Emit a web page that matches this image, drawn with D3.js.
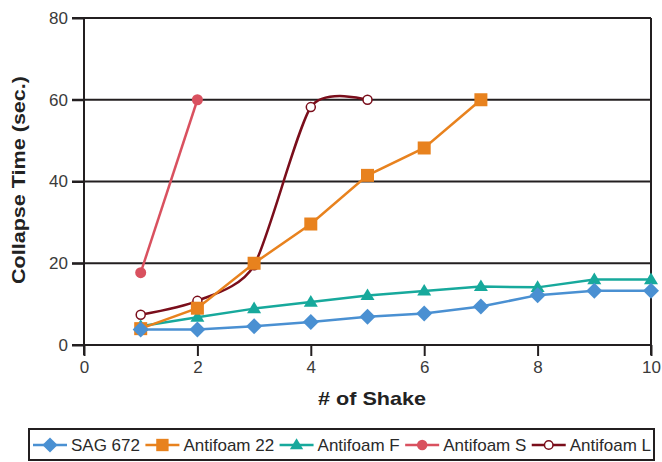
<!DOCTYPE html>
<html><head><meta charset="utf-8">
<script src="https://cdn.jsdelivr.net/npm/d3@7"></script>
<style>
body{margin:0;background:#fff;}
svg{display:block;}
</style></head><body>
<svg id="chart" width="662" height="462"></svg>
<script>
const xTicks = [0, 2, 4, 6, 8, 10];
const yTicks = [0, 20, 40, 60, 80];
const sagX = [1, 2, 3, 4, 5, 6, 7, 8, 9, 10];
const sagY = [3.8, 3.8, 4.6, 5.6, 6.9, 7.7, 9.4, 12.2, 13.3, 13.3];
const af22X = [1, 2, 3, 4, 5, 6, 7];
const af22Y = [4.0, 9.0, 20.0, 29.6, 41.5, 48.2, 60.0];
const afFX = [1, 2, 3, 4, 5, 6, 7, 8, 9, 10];
const afFY = [4.6, 6.8, 8.9, 10.5, 12.1, 13.2, 14.3, 14.1, 16.0, 16.0];
const afSX = [1, 2];
const afSY = [17.7, 60.0];
const afLX = [1, 2, 3, 4, 5];
const afLY = [7.4, 10.8, 19.5, 58.2, 60.0];
const seriesNames = ["SAG 672", "Antifoam 22", "Antifoam F", "Antifoam S", "Antifoam L"];

(function () {
const series = [
  {name: seriesNames[0], xs: sagX, ys: sagY, color: "#4A90D2", marker: "diamond", smooth: false},
  {name: seriesNames[1], xs: af22X, ys: af22Y, color: "#E8821E", marker: "square", smooth: false},
  {name: seriesNames[2], xs: afFX, ys: afFY, color: "#17A99C", marker: "triangle", smooth: false},
  {name: seriesNames[3], xs: afSX, ys: afSY, color: "#D9515F", marker: "circle", smooth: false},
  {name: seriesNames[4], xs: afLX, ys: afLY, color: "#7A0E1B", marker: "open", smooth: true}
];

const svg = d3.select("#chart");
const pL = 84, pR = 651, pT = 18, pB = 345;
const x = d3.scaleLinear().domain([0, 10]).range([pL, pR]);
const y = d3.scaleLinear().domain([0, 80]).range([pB, pT]);
const axisColor = "#231F20";
const textColor = "#3a3a3a";
const font = "'Liberation Sans', Arial, sans-serif";

svg.append("g").selectAll("line").data(yTicks.filter(d => d > 0)).join("line")
  .attr("x1", pL - 12).attr("x2", pR)
  .attr("y1", d => y(d)).attr("y2", d => y(d))
  .attr("stroke", axisColor).attr("stroke-width", 2);

svg.append("line").attr("x1", pR).attr("x2", pR).attr("y1", y(80)).attr("y2", y(0) + 10)
  .attr("stroke", axisColor).attr("stroke-width", 2);

const yAxis = d3.axisLeft(y).tickValues(yTicks).tickSize(12).tickPadding(4).tickFormat(d3.format("d"));
const gy = svg.append("g").attr("transform", `translate(${pL},0)`).call(yAxis);
gy.select(".domain").remove();
gy.append("line").attr("x1", 0).attr("x2", 0).attr("y1", y(80)).attr("y2", y(0) + 10)
  .attr("stroke", axisColor).attr("stroke-width", 2);
gy.selectAll(".tick line").attr("stroke", axisColor).attr("stroke-width", 2);
gy.selectAll(".tick text").attr("font-family", font).attr("font-size", 17).attr("fill", textColor);

const xAxis = d3.axisBottom(x).tickValues(xTicks).tickSize(11).tickPadding(5).tickFormat(d3.format("d"));
const gx = svg.append("g").attr("transform", `translate(0,${pB})`).call(xAxis);
gx.select(".domain").remove();
gx.append("line").attr("x1", pL - 12).attr("x2", pR).attr("y1", 0).attr("y2", 0)
  .attr("stroke", axisColor).attr("stroke-width", 2);
gx.selectAll(".tick line").attr("stroke", axisColor).attr("stroke-width", 2);
gx.selectAll(".tick text").attr("font-family", font).attr("font-size", 17).attr("fill", textColor);

svg.append("text").attr("x", 372).attr("y", 405).attr("text-anchor", "middle")
  .attr("font-family", font).attr("font-weight", "bold").attr("font-size", 19).attr("fill", "#222")
  .attr("textLength", 108).attr("lengthAdjust", "spacingAndGlyphs")
  .text("# of Shake");
svg.append("text").attr("transform", `translate(25,180) rotate(-90)`)
  .attr("text-anchor", "middle")
  .attr("font-family", font).attr("font-weight", "bold").attr("font-size", 19).attr("fill", "#222")
  .attr("textLength", 208).attr("lengthAdjust", "spacingAndGlyphs")
  .text("Collapse Time (sec.)");

function drawMarker(g, type, color, cx, cy, scale) {
  const s = scale || 1;
  if (type === "diamond") {
    const r = 8 * s;
    g.append("path").attr("d", `M${cx},${cy - r}L${cx + r},${cy}L${cx},${cy + r}L${cx - r},${cy}Z`).attr("fill", color);
  } else if (type === "square") {
    const h = 6.5 * s;
    g.append("rect").attr("x", cx - h).attr("y", cy - h).attr("width", 2 * h).attr("height", 2 * h).attr("fill", color);
  } else if (type === "triangle") {
    const h = 7 * s;
    g.append("path").attr("d", `M${cx},${cy - h}L${cx + h},${cy + h * 0.65}L${cx - h},${cy + h * 0.65}Z`).attr("fill", color);
  } else if (type === "circle") {
    g.append("circle").attr("cx", cx).attr("cy", cy).attr("r", 5.5 * s).attr("fill", color);
  } else if (type === "open") {
    g.append("circle").attr("cx", cx).attr("cy", cy).attr("r", 4.5 * s).attr("fill", "#fff")
      .attr("stroke", color).attr("stroke-width", 1.5);
  }
}

const plot = svg.append("g");
series.slice().reverse().forEach(s => {
  const pts = s.xs.map((xv, i) => [xv, s.ys[i]]);
  const line = d3.line().x(d => x(d[0])).y(d => y(d[1]))
    .curve(s.smooth ? d3.curveCardinal.tension(0.3) : d3.curveLinear);
  const g = plot.append("g");
  g.append("path").attr("d", line(pts)).attr("fill", "none").attr("stroke", s.color).attr("stroke-width", 2.5);
  pts.forEach(p => drawMarker(g, s.marker, s.color, x(p[0]), y(p[1])));
});

const lg = svg.append("g");
lg.append("rect").attr("x", 29).attr("y", 429).attr("width", 625).attr("height", 31)
  .attr("fill", "#fff").attr("stroke", axisColor).attr("stroke-width", 2);
const legendFont = 17;
const ly = 445, symW = 34, txtGap = 4, startX = 33, endX = 651;
const items = series.map(s => {
  const g = lg.append("g");
  const t = g.append("text").attr("y", ly + 6)
    .attr("font-family", font).attr("font-size", legendFont).attr("fill", "#2a2a2a").text(s.name);
  return {s, g, t, w: t.node().getComputedTextLength()};
});
const totalW = d3.sum(items, d => symW + txtGap + d.w);
const gap = (endX - startX - totalW) / (items.length - 1);
let cx = startX;
items.forEach(it => {
  it.g.insert("line", "text").attr("x1", cx).attr("x2", cx + symW).attr("y1", ly).attr("y2", ly)
    .attr("stroke", it.s.color).attr("stroke-width", 2.5);
  drawMarker(it.g, it.s.marker, it.s.color, cx + symW / 2, ly, 0.95);
  it.t.attr("x", cx + symW + txtGap);
  cx += symW + txtGap + it.w + gap;
});
})();
</script>
</body></html>
